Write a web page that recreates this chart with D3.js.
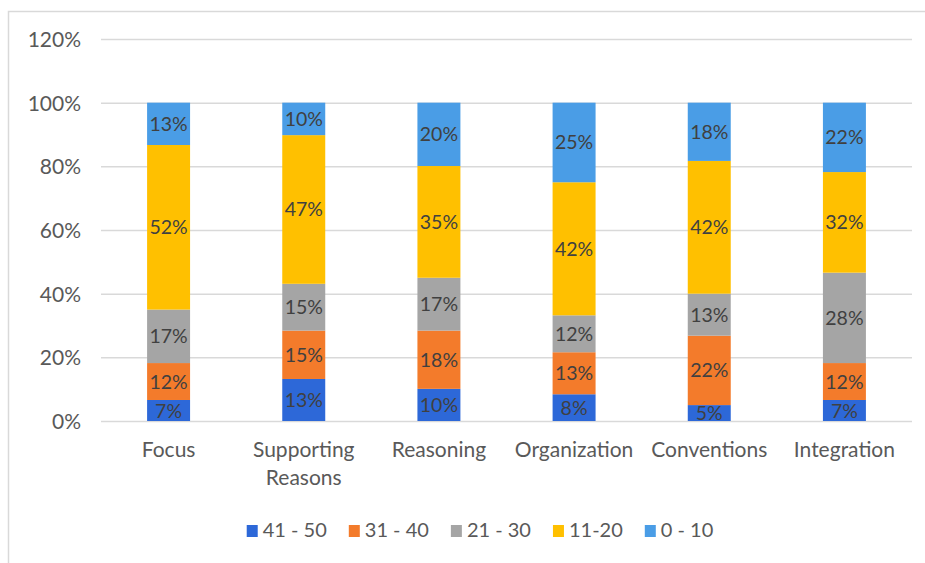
<!DOCTYPE html>
<html><head><meta charset="utf-8">
<script src="https://cdn.jsdelivr.net/npm/d3@7"></script>
<style>
html,body{margin:0;padding:0;background:#fff;}
svg text{font-family:Lato,"Open Sans",sans-serif !important;}
</style></head>
<body>
<script>
const categories = ["Focus", "Supporting Reasons", "Reasoning", "Organization", "Conventions", "Integration"];
const seriesNames = ["41 - 50", "31 - 40", "21 - 30", "11-20", "0 - 10"];
const s41_50 = [0.066, 0.132, 0.101, 0.084, 0.050, 0.066];
const s31_40 = [0.116, 0.152, 0.183, 0.132, 0.218, 0.116];
const s21_30 = [0.168, 0.147, 0.166, 0.116, 0.132, 0.284];
const s11_20 = [0.517, 0.467, 0.351, 0.418, 0.417, 0.316];
const s0_10  = [0.133, 0.102, 0.199, 0.250, 0.183, 0.218];
const yTicks = [0, 0.2, 0.4, 0.6, 0.8, 1.0, 1.2];
const colors = ["#2D68D8", "#F37B2B", "#A5A5A5", "#FFC000", "#4A9DE6"];

const seriesValues = [s41_50, s31_40, s21_30, s11_20, s0_10];
const W = 925, H = 563;
const svg = d3.select("body").append("svg").attr("width", W).attr("height", H);

// outer chart border
svg.append("rect").attr("x", 8.5).attr("y", 11.5).attr("width", 1000).attr("height", 1000)
  .attr("fill", "none").attr("stroke", "#d9d9d9").attr("stroke-width", 1.5);

const x = d3.scaleBand().domain(categories).range([101, 912]).paddingInner(0.682).paddingOuter(0.341);
const y = d3.scaleLinear().domain([0, 1.2]).range([421, 39]);

// gridlines
const yAxis = d3.axisLeft(y).tickValues(yTicks).tickFormat(d3.format(".0%")).tickSize(-(912 - 101)).tickPadding(20);
const gy = svg.append("g").attr("transform", "translate(101,0)").call(yAxis);
gy.select(".domain").remove();
gy.selectAll(".tick line").attr("stroke", "#d9d9d9").attr("stroke-width", 1.5);
gy.selectAll(".tick text").attr("fill", "#595959").style("font-size", "21px").attr("dy", "0.36em");

// stacked data
const rows = categories.map((c, i) => {
  const r = {cat: c};
  seriesNames.forEach((s, j) => r[s] = seriesValues[j][i]);
  return r;
});
const stack = d3.stack().keys(seriesNames)(rows);

const groups = svg.append("g").selectAll("g").data(stack).join("g")
  .attr("fill", (d, i) => colors[i]);
groups.selectAll("rect").data(d => d).join("rect")
  .attr("x", d => x(d.data.cat))
  .attr("width", x.bandwidth())
  .attr("y", d => y(d[1]))
  .attr("height", d => y(d[0]) - y(d[1]));

// data labels
const lbl = svg.append("g");
stack.forEach((s, j) => {
  s.forEach(d => {
    lbl.append("text")
      .attr("x", x(d.data.cat) + x.bandwidth() / 2)
      .attr("y", (y(d[0]) + y(d[1])) / 2)
      .attr("dy", "0.36em")
      .attr("text-anchor", "middle")
      .attr("fill", "#404040")
      .style("font-size", "19.5px")
      .text(d3.format(".0%")(d[1] - d[0]));
  });
});

// x axis labels
const xAxis = d3.axisBottom(x).tickSize(0).tickPadding(0);
const gx = svg.append("g").attr("transform", "translate(0,421)").call(xAxis);
gx.select(".domain").remove();
gx.selectAll(".tick text").attr("fill", "#595959").style("font-size", "21px").attr("y", 0).attr("dy", null)
  .each(function(d) {
    const t = d3.select(this);
    t.text(null);
    const words = d === "Supporting Reasons" ? ["Supporting", "Reasons"] : [d];
    words.forEach((w, k) => t.append("tspan").attr("x", 0).attr("y", 36 + k * 28).text(w));
  });

// legend
const leg = svg.append("g");
const items = seriesNames.map((n, i) => {
  const g = leg.append("g");
  g.append("rect").attr("width", 11).attr("height", 12).attr("y", -12).attr("fill", colors[i]);
  const t = g.append("text").attr("x", 16).attr("y", 0).attr("fill", "#595959").style("font-size", "20px").text(n);
  return {g, w: 16 + t.node().getComputedTextLength()};
});
const gap = 22;
const total = d3.sum(items, d => d.w) + gap * (items.length - 1);
let cx = 480 - total / 2;
items.forEach(it => { it.g.attr("transform", `translate(${cx},537)`); cx += it.w + gap; });
</script>
</body></html>
